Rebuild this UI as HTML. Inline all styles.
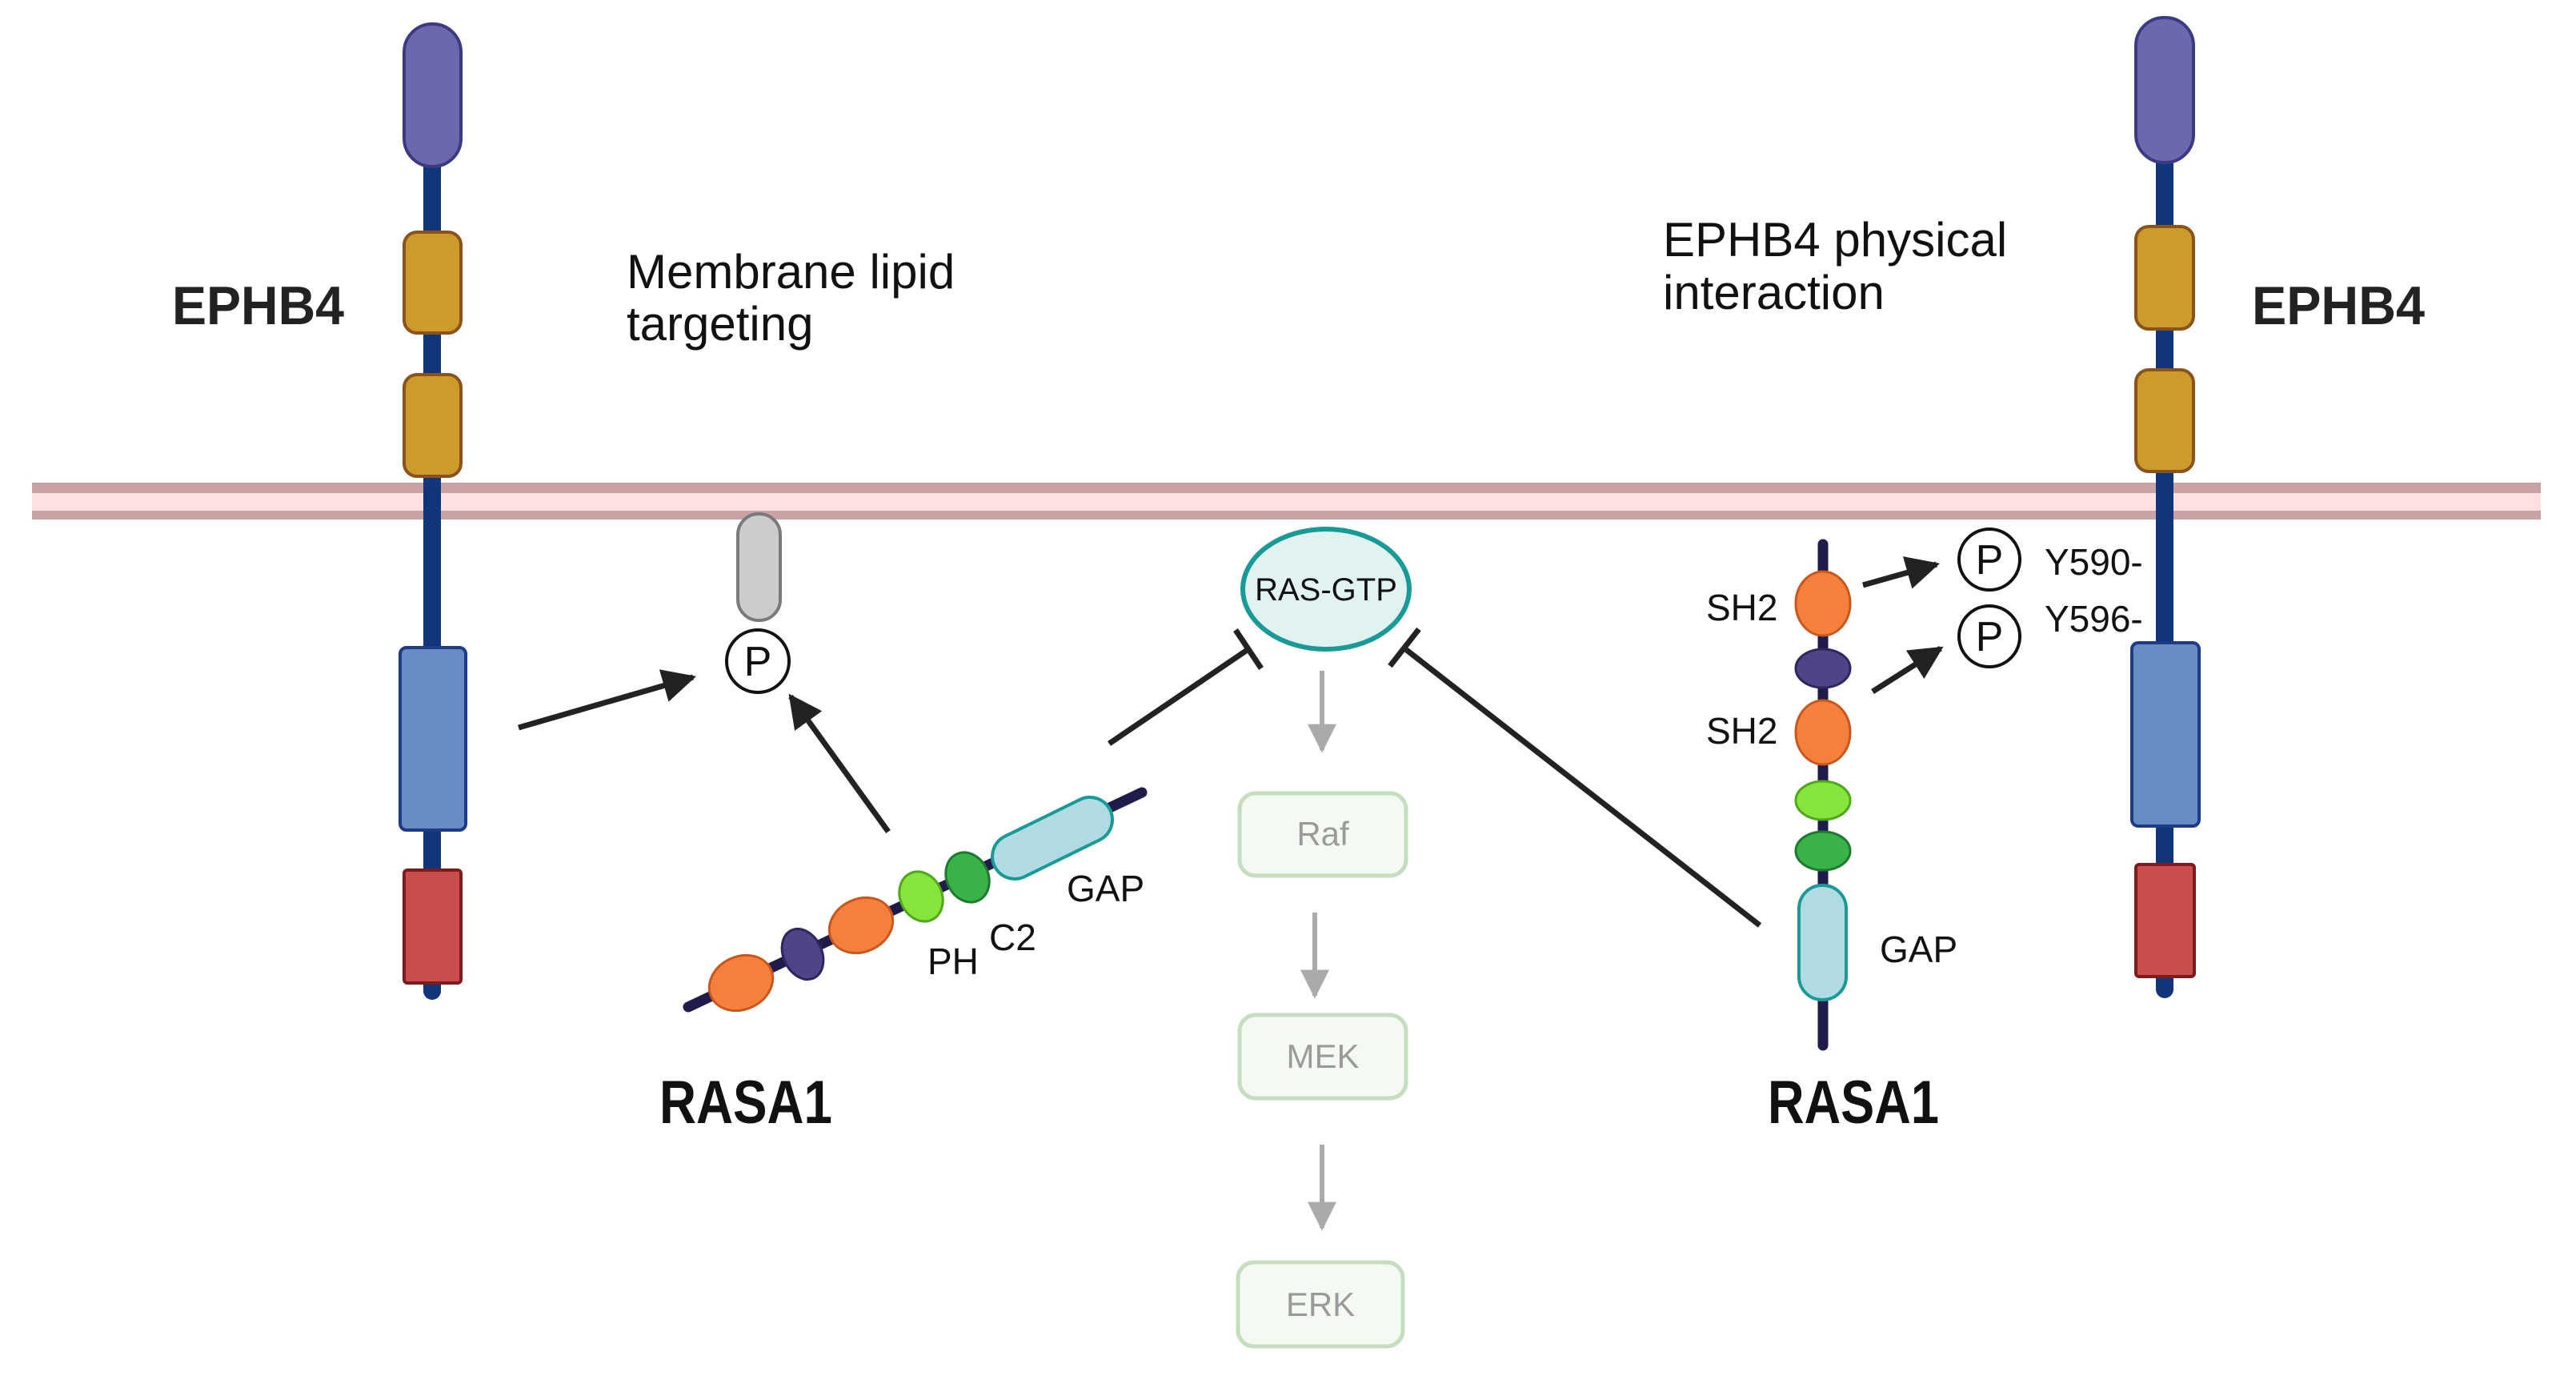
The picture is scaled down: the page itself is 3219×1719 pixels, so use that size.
<!DOCTYPE html>
<html><head><meta charset="utf-8"><style>
html,body{margin:0;padding:0;background:#fff;}
svg{display:block;}
text{font-family:"Liberation Sans",sans-serif;}
</style></head><body>
<svg width="3219" height="1719" viewBox="0 0 3219 1719" xmlns="http://www.w3.org/2000/svg">
<defs>
<marker id="ah" viewBox="0 0 10 10" refX="9" refY="5" markerWidth="6" markerHeight="6" orient="auto" markerUnits="strokeWidth"><path d="M0,0 L10,5 L0,10 z" fill="#222"/></marker>
<marker id="gh" viewBox="0 0 10 10" refX="9" refY="5" markerWidth="6" markerHeight="6" orient="auto" markerUnits="strokeWidth"><path d="M0,0 L10,5 L0,10 z" fill="#aaa"/></marker>
</defs>
<!-- membrane -->
<rect x="40" y="603" width="3135" height="46" fill="#c9a2a3"/>
<rect x="40" y="616" width="3135" height="22" fill="#fde0e0"/>

<!-- left EPHB4 -->
<line x1="540" y1="200" x2="540" y2="1238" stroke="#10357a" stroke-width="22" stroke-linecap="round"/>
<rect x="505" y="30" width="71" height="178" rx="35" fill="#6c68ae" stroke="#3c3a82" stroke-width="4"/>
<rect x="505" y="290" width="71" height="126" rx="16" fill="#cd9a2c" stroke="#8a531c" stroke-width="4"/>
<rect x="505" y="468" width="71" height="127" rx="16" fill="#cd9a2c" stroke="#8a531c" stroke-width="4"/>
<rect x="500" y="809" width="82" height="228" rx="8" fill="#688cc6" stroke="#1e3c86" stroke-width="4"/>
<rect x="505" y="1087" width="71" height="141" rx="4" fill="#c94d4d" stroke="#7e1b1b" stroke-width="4"/>
<text x="215" y="405" font-size="68" font-weight="bold" fill="#222" textLength="215" lengthAdjust="spacingAndGlyphs">EPHB4</text>

<!-- right EPHB4 -->
<line x1="2705" y1="195" x2="2705" y2="1236" stroke="#10357a" stroke-width="22" stroke-linecap="round"/>
<rect x="2669" y="22" width="72" height="181" rx="35" fill="#6c68ae" stroke="#3c3a82" stroke-width="4"/>
<rect x="2669" y="283" width="72" height="128" rx="16" fill="#cd9a2c" stroke="#8a531c" stroke-width="4"/>
<rect x="2669" y="462" width="72" height="127" rx="16" fill="#cd9a2c" stroke="#8a531c" stroke-width="4"/>
<rect x="2664" y="803" width="84" height="229" rx="8" fill="#688cc6" stroke="#1e3c86" stroke-width="4"/>
<rect x="2669" y="1080" width="73" height="140" rx="4" fill="#c94d4d" stroke="#7e1b1b" stroke-width="4"/>
<text x="2814" y="405" font-size="68" font-weight="bold" fill="#222" textLength="216" lengthAdjust="spacingAndGlyphs">EPHB4</text>

<!-- texts -->
<text x="783" y="360" font-size="60" fill="#111">Membrane lipid</text>
<text x="783" y="425" font-size="60" fill="#111">targeting</text>
<text x="2078" y="320" font-size="60" fill="#111">EPHB4 physical</text>
<text x="2078" y="386" font-size="60" fill="#111">interaction</text>

<!-- grey capsule and P -->
<rect x="922" y="642" width="53" height="133" rx="26" fill="#cccccc" stroke="#7a7a7a" stroke-width="4"/>
<circle cx="947" cy="826" r="39" fill="#fff" stroke="#111" stroke-width="4"/>
<text x="947" y="844" font-size="52" text-anchor="middle" fill="#111">P</text>

<!-- arrows to P -->
<line x1="648" y1="909" x2="866" y2="846" stroke="#222" stroke-width="7" marker-end="url(#ah)"/>
<line x1="1110" y1="1039" x2="988" y2="870" stroke="#222" stroke-width="7" marker-end="url(#ah)"/>

<!-- left RASA1 -->
<line x1="860" y1="1258" x2="1427" y2="990" stroke="#1f1b4a" stroke-width="13" stroke-linecap="round"/>
<g transform="rotate(-25 926 1228)"><ellipse cx="926" cy="1228" rx="41" ry="33" fill="#f5803e" stroke="#c9561b" stroke-width="3"/></g>
<g transform="rotate(-25 1003 1192)"><ellipse cx="1003" cy="1192" rx="24" ry="33" fill="#4f4485" stroke="#2d2660" stroke-width="3"/></g>
<g transform="rotate(-25 1076 1156)"><ellipse cx="1076" cy="1156" rx="41" ry="33" fill="#f5803e" stroke="#c9561b" stroke-width="3"/></g>
<g transform="rotate(-25 1151 1120)"><ellipse cx="1151" cy="1120" rx="26" ry="32" fill="#86e43a" stroke="#4fa81b" stroke-width="3"/></g>
<g transform="rotate(-25 1209 1096)"><ellipse cx="1209" cy="1096" rx="26" ry="32" fill="#39b24a" stroke="#1e7a2c" stroke-width="3"/></g>
<line x1="1268" y1="1070" x2="1362" y2="1024" stroke="#1a9a96" stroke-width="60" stroke-linecap="round"/>
<line x1="1268" y1="1070" x2="1362" y2="1024" stroke="#b0dbe2" stroke-width="52" stroke-linecap="round"/>
<text x="1159" y="1217" font-size="46" fill="#111">PH</text>
<text x="1236" y="1187" font-size="46" fill="#111">C2</text>
<text x="1333" y="1126" font-size="46" fill="#111">GAP</text>
<text x="824" y="1403" font-size="76" font-weight="bold" fill="#111" textLength="216" lengthAdjust="spacingAndGlyphs">RASA1</text>

<!-- inhibition lines -->
<line x1="1386" y1="929" x2="1560" y2="811" stroke="#222" stroke-width="7"/>
<line x1="1544" y1="787" x2="1576" y2="835" stroke="#222" stroke-width="7"/>
<line x1="2199" y1="1156" x2="1755" y2="810" stroke="#222" stroke-width="7"/>
<line x1="1737" y1="832" x2="1773" y2="786" stroke="#222" stroke-width="7"/>

<!-- RAS-GTP -->
<ellipse cx="1657" cy="736" rx="104" ry="75" fill="#e1f3f1" stroke="#1a9a96" stroke-width="6"/>
<text x="1657" y="750" font-size="40" text-anchor="middle" fill="#111">RAS-GTP</text>

<!-- cascade -->
<line x1="1652" y1="838" x2="1652" y2="937" stroke="#aaa" stroke-width="6" marker-end="url(#gh)"/>
<rect x="1549" y="991" width="208" height="103" rx="20" fill="#f4faf2" stroke="#c6ddc0" stroke-width="5"/>
<text x="1653" y="1056" font-size="42" text-anchor="middle" fill="#9a9a9a">Raf</text>
<line x1="1643" y1="1140" x2="1643" y2="1244" stroke="#aaa" stroke-width="6" marker-end="url(#gh)"/>
<rect x="1549" y="1268" width="208" height="104" rx="20" fill="#f4faf2" stroke="#c6ddc0" stroke-width="5"/>
<text x="1653" y="1334" font-size="42" text-anchor="middle" fill="#9a9a9a">MEK</text>
<line x1="1652" y1="1430" x2="1652" y2="1534" stroke="#aaa" stroke-width="6" marker-end="url(#gh)"/>
<rect x="1547" y="1577" width="206" height="105" rx="20" fill="#f4faf2" stroke="#c6ddc0" stroke-width="5"/>
<text x="1650" y="1644" font-size="42" text-anchor="middle" fill="#9a9a9a">ERK</text>

<!-- right RASA1 vertical -->
<line x1="2278" y1="680" x2="2278" y2="1306" stroke="#1f1b4a" stroke-width="13" stroke-linecap="round"/>
<ellipse cx="2278" cy="754" rx="34" ry="40" fill="#f5803e" stroke="#c9561b" stroke-width="3"/>
<ellipse cx="2278" cy="835" rx="34" ry="24" fill="#4f4485" stroke="#2d2660" stroke-width="3"/>
<ellipse cx="2278" cy="915" rx="34" ry="40" fill="#f5803e" stroke="#c9561b" stroke-width="3"/>
<ellipse cx="2278" cy="1000" rx="34" ry="24" fill="#86e43a" stroke="#4fa81b" stroke-width="3"/>
<ellipse cx="2278" cy="1063" rx="34" ry="24" fill="#39b24a" stroke="#1e7a2c" stroke-width="3"/>
<rect x="2248" y="1106" width="59" height="143" rx="29" fill="#b0dbe2" stroke="#1a9a96" stroke-width="4"/>
<text x="2132" y="775" font-size="46" fill="#111">SH2</text>
<text x="2132" y="929" font-size="46" fill="#111">SH2</text>
<text x="2349" y="1202" font-size="46" fill="#111">GAP</text>
<text x="2209" y="1403" font-size="76" font-weight="bold" fill="#111" textLength="214" lengthAdjust="spacingAndGlyphs">RASA1</text>

<line x1="2328" y1="731" x2="2420" y2="705" stroke="#222" stroke-width="7" marker-end="url(#ah)"/>
<line x1="2340" y1="864" x2="2425" y2="810" stroke="#222" stroke-width="7" marker-end="url(#ah)"/>
<circle cx="2486" cy="699" r="38" fill="#fff" stroke="#111" stroke-width="4"/>
<text x="2486" y="717" font-size="52" text-anchor="middle" fill="#111">P</text>
<circle cx="2486" cy="795" r="38" fill="#fff" stroke="#111" stroke-width="4"/>
<text x="2486" y="813" font-size="52" text-anchor="middle" fill="#111">P</text>
<text x="2555" y="718" font-size="46" fill="#111">Y590-</text>
<text x="2555" y="789" font-size="46" fill="#111">Y596-</text>
</svg>
</body></html>
